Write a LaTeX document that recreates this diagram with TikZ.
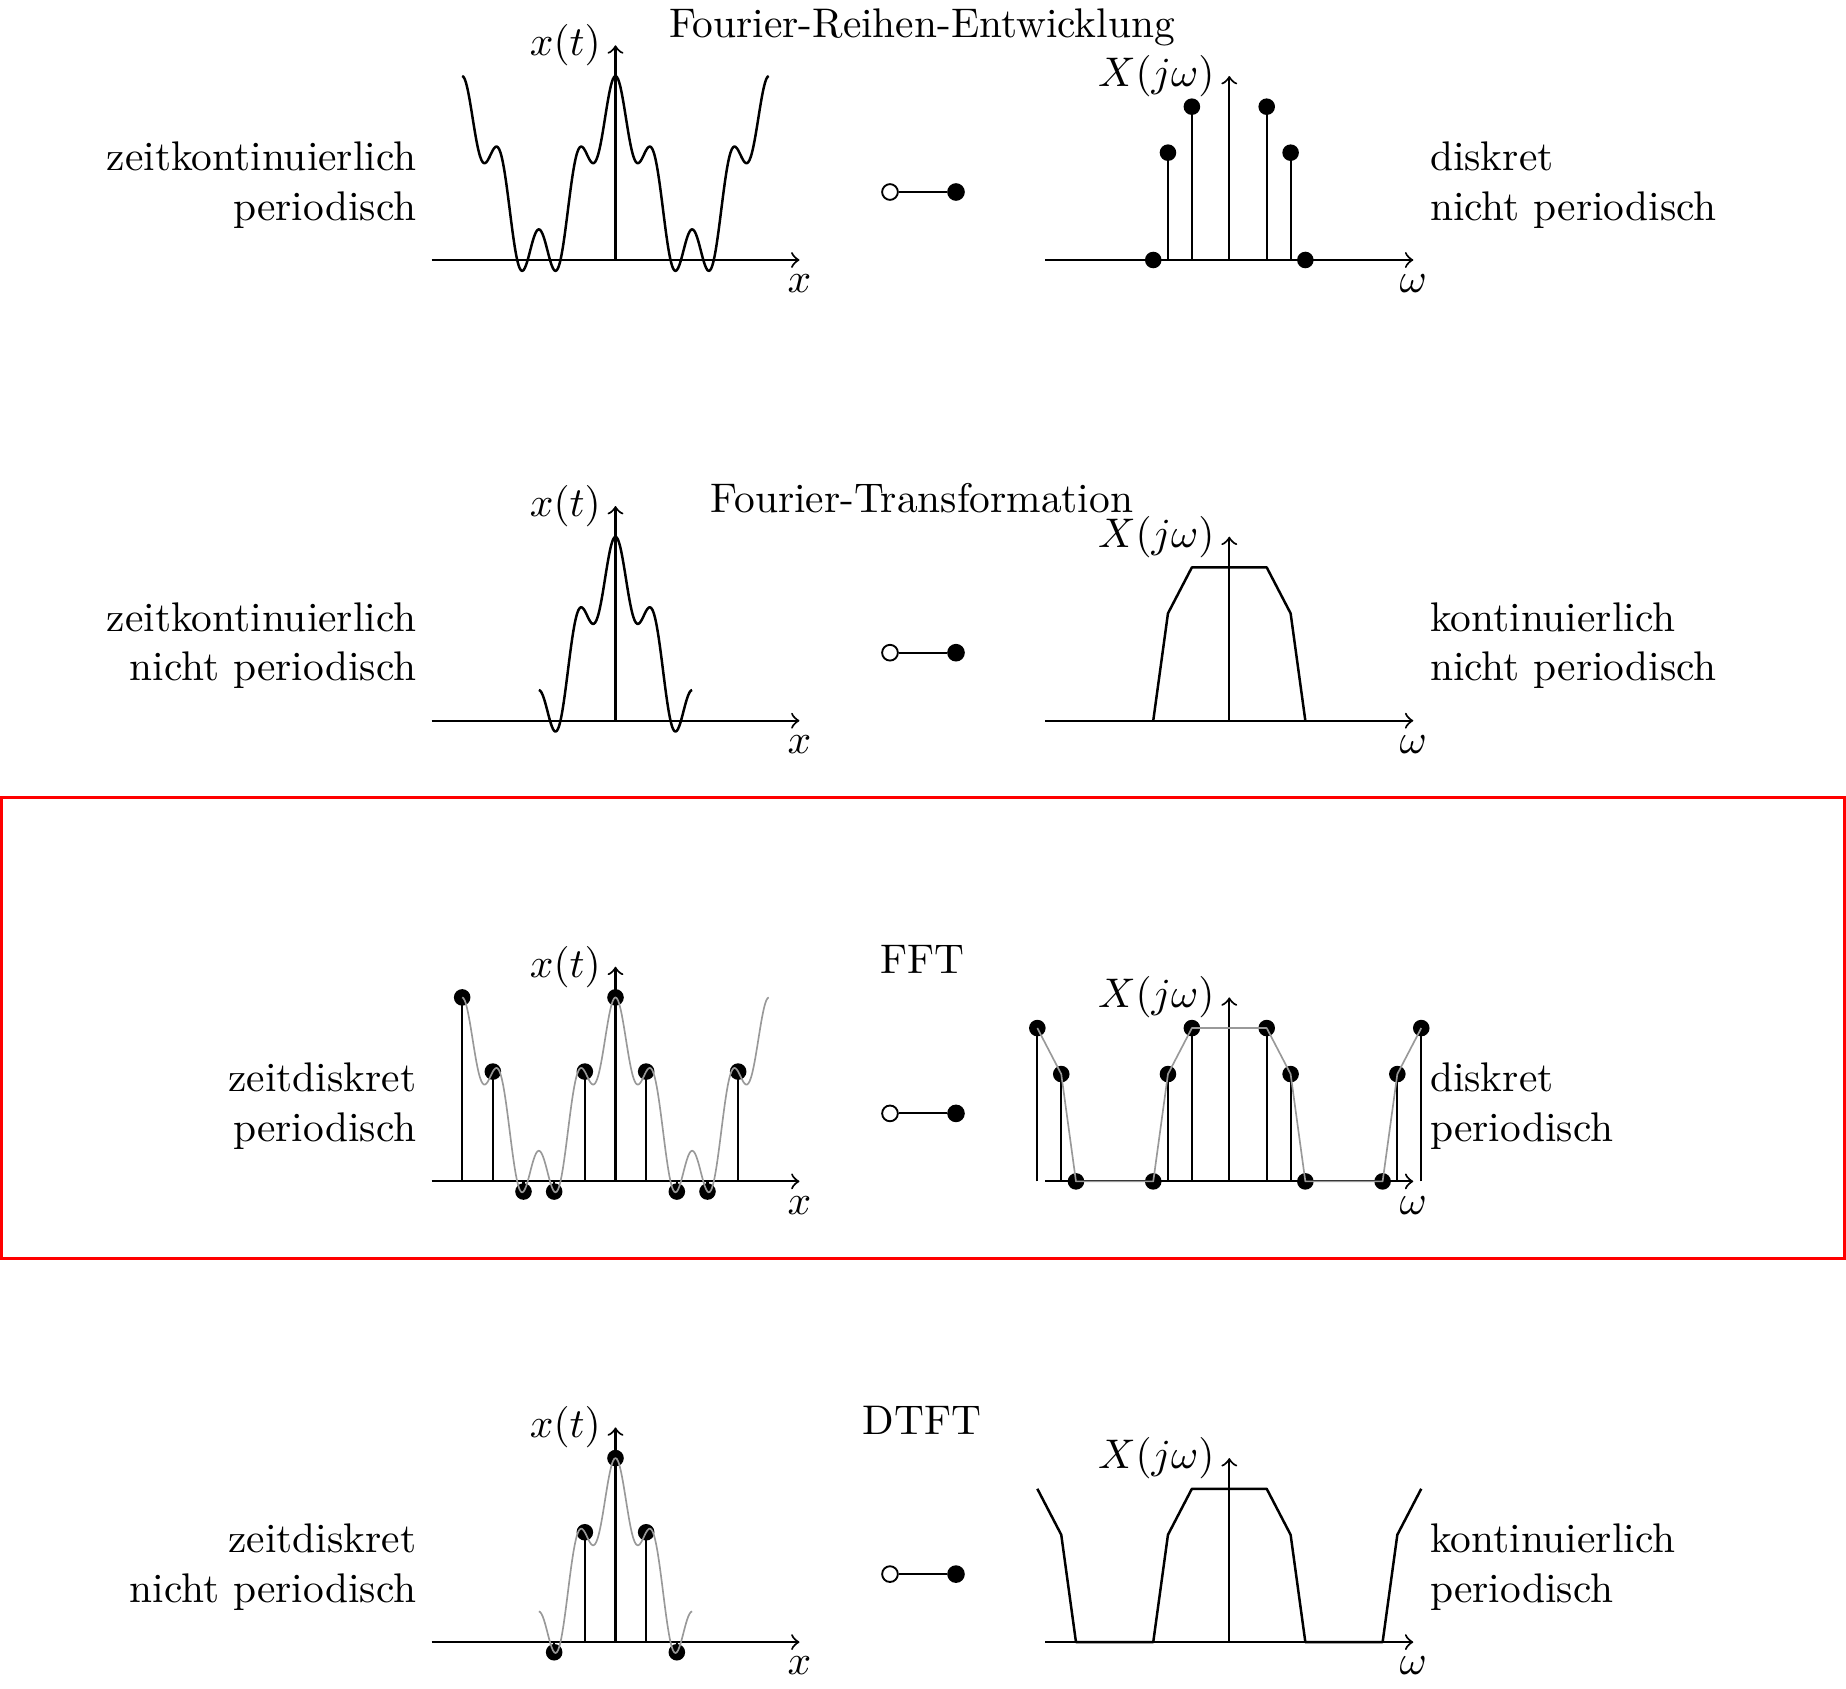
\documentclass[tikz,border=0pt]{standalone}
\begin{document}
\begin{tikzpicture}[x=0.2415pt, y=-0.2415pt,
  declare function={sig(\t)=1.25+1.25*cos(144*\t)+0.5*cos(576*\t);},
  axis/.style={->, line width=0.5pt},
  curve/.style={line width=0.6pt, line join=round},
  samp/.style={line width=0.5pt},
  gcurve/.style={line width=0.4pt, black!40, line join=round},
  odot/.style={circle, draw=black, fill=white, inner sep=0pt, minimum size=3.8pt, line width=0.45pt},
  fdot/.style={circle, draw=black, fill=black, inner sep=0pt, minimum size=3.8pt, line width=0.45pt},
  link/.style={line width=0.45pt},
  leftlbl/.style={anchor=east, align=right},
  rightlbl/.style={anchor=west, align=left},
  title/.style={anchor=base},
  unit/.style={x=14.811pt, y=14.811pt}]
\useasboundingbox (0,0) rectangle (1846,1689);

% ---------------- Row 1: Fourier-Reihen-Entwicklung
\node[title] (title1) at (922,38) {Fourier-Reihen-Entwicklung};
\node[leftlbl] (l1) at (431,185) {zeitkontinuierlich\\periodisch};
\node[rightlbl] (r1) at (1415.5,185) {diskret\\nicht periodisch};
\node[odot] (o1) at (890,192) {};
\node[fdot] (f1) at (956,192) {};
\draw[link] (o1) -- (f1);
\begin{scope}[shift={(615.5,260)}, unit]
  \draw[axis] (-3,0) -- (3,0) node[below] (xa1) {$x$};
  \draw[axis] (0,0) -- (0,3.5) node[left] (xt1) {$x(t)$};
  \draw[curve] plot[domain=-2.5:2.5, samples=241, smooth] (\x,{sig(\x)});
\end{scope}
\begin{scope}[shift={(1229.3,260)}, unit]
  \draw[axis] (-3,0) -- (3,0) node[below] (wa1) {$\omega$};
  \draw[axis] (0,0) -- (0,3) node[left] (Xw1) {$X(j\omega)$};
  \foreach \p/\h in {-1/1.75,-0.61/2.5,0.61/2.5,1/1.75}{
    \draw[samp] (\p,0) -- (\p,\h);
    \fill (\p,\h) circle (2pt);}
  \fill (-1.24,0) circle (2pt);
  \fill (1.24,0) circle (2pt);
\end{scope}

% ---------------- Row 2: Fourier-Transformation
\node[title] (title2) at (922,512.7) {Fourier-Transformation};
\node[leftlbl] (l2) at (431,645.7) {zeitkontinuierlich\\nicht periodisch};
\node[rightlbl] (r2) at (1415.5,645.7) {kontinuierlich\\nicht periodisch};
\node[odot] (o2) at (890,652.7) {};
\node[fdot] (f2) at (956,652.7) {};
\draw[link] (o2) -- (f2);
\begin{scope}[shift={(615.5,720.7)}, unit]
  \draw[axis] (-3,0) -- (3,0) node[below] (xa2) {$x$};
  \draw[axis] (0,0) -- (0,3.5) node[left] (xt2) {$x(t)$};
  \draw[curve] plot[domain=-1.25:1.25, samples=121, smooth] (\x,{sig(\x)});
\end{scope}
\begin{scope}[shift={(1229.3,720.7)}, unit]
  \draw[axis] (-3,0) -- (3,0) node[below] (wa2) {$\omega$};
  \draw[axis] (0,0) -- (0,3) node[left] (Xw2) {$X(j\omega)$};
  \draw[curve] (-1.24,0) -- (-1,1.75) -- (-0.61,2.5) -- (0.61,2.5) -- (1,1.75) -- (1.24,0);
\end{scope}

% ---------------- Row 3: FFT
\draw[red, line width=0.8pt] (1.6,797.7) rectangle (1844.4,1258.5);
\node[title] (title3) at (922,973.4) {FFT};
\node[leftlbl] (l3) at (431,1106.4) {zeitdiskret\\periodisch};
\node[rightlbl] (r3) at (1415.5,1106.4) {diskret\\periodisch};
\node[odot] (o3) at (890,1113.4) {};
\node[fdot] (f3) at (956,1113.4) {};
\draw[link] (o3) -- (f3);
\begin{scope}[shift={(615.5,1181.4)}, unit]
  \draw[axis] (-3,0) -- (3,0) node[below] (xa3) {$x$};
  \draw[axis] (0,0) -- (0,3.5) node[left] (xt3) {$x(t)$};
  \foreach \n in {-5,...,4}{
    \pgfmathsetmacro\tt{0.5*\n}
    \pgfmathsetmacro\vv{sig(\tt)}
    \draw[samp] (\tt,0) -- (\tt,\vv);
    \fill (\tt,\vv) circle (2pt);}
  \draw[gcurve] plot[domain=-2.5:2.5, samples=241, smooth] (\x,{sig(\x)});
\end{scope}
\begin{scope}[shift={(1229.3,1181.4)}, unit]
  \draw[axis] (-3,0) -- (3,0) node[below] (wa3) {$\omega$};
  \draw[axis] (0,0) -- (0,3) node[left] (Xw3) {$X(j\omega)$};
  \foreach \p/\h in {-3.13/2.5,-2.74/1.75,-1/1.75,-0.61/2.5,0.61/2.5,1/1.75,2.74/1.75,3.13/2.5}{
    \draw[samp] (\p,0) -- (\p,\h);
    \fill (\p,\h) circle (2pt);}
  \foreach \p in {-2.5,-1.24,1.24,2.5}{
    \fill (\p,0) circle (2pt);}
  \draw[gcurve] (-3.13,2.5) -- (-2.74,1.75) -- (-2.5,0) -- (-1.24,0) -- (-1,1.75) -- (-0.61,2.5)
    -- (0.61,2.5) -- (1,1.75) -- (1.24,0) -- (2.5,0) -- (2.74,1.75) -- (3.13,2.5);
\end{scope}

% ---------------- Row 4: DTFT
\node[title] (title4) at (922,1434.1) {DTFT};
\node[leftlbl] (l4) at (431,1567.1) {zeitdiskret\\nicht periodisch};
\node[rightlbl] (r4) at (1415.5,1567.1) {kontinuierlich\\periodisch};
\node[odot] (o4) at (890,1574.1) {};
\node[fdot] (f4) at (956,1574.1) {};
\draw[link] (o4) -- (f4);
\begin{scope}[shift={(615.5,1642.1)}, unit]
  \draw[axis] (-3,0) -- (3,0) node[below] (xa4) {$x$};
  \draw[axis] (0,0) -- (0,3.5) node[left] (xt4) {$x(t)$};
  \foreach \n in {-2,...,2}{
    \pgfmathsetmacro\tt{0.5*\n}
    \pgfmathsetmacro\vv{sig(\tt)}
    \draw[samp] (\tt,0) -- (\tt,\vv);
    \fill (\tt,\vv) circle (2pt);}
  \draw[gcurve] plot[domain=-1.25:1.25, samples=121, smooth] (\x,{sig(\x)});
\end{scope}
\begin{scope}[shift={(1229.3,1642.1)}, unit]
  \draw[axis] (-3,0) -- (3,0) node[below] (wa4) {$\omega$};
  \draw[axis] (0,0) -- (0,3) node[left] (Xw4) {$X(j\omega)$};
  \draw[curve] (-3.13,2.5) -- (-2.74,1.75) -- (-2.5,0) -- (-1.24,0) -- (-1,1.75) -- (-0.61,2.5)
    -- (0.61,2.5) -- (1,1.75) -- (1.24,0) -- (2.5,0) -- (2.74,1.75) -- (3.13,2.5);
\end{scope}
\end{tikzpicture}
\end{document}
